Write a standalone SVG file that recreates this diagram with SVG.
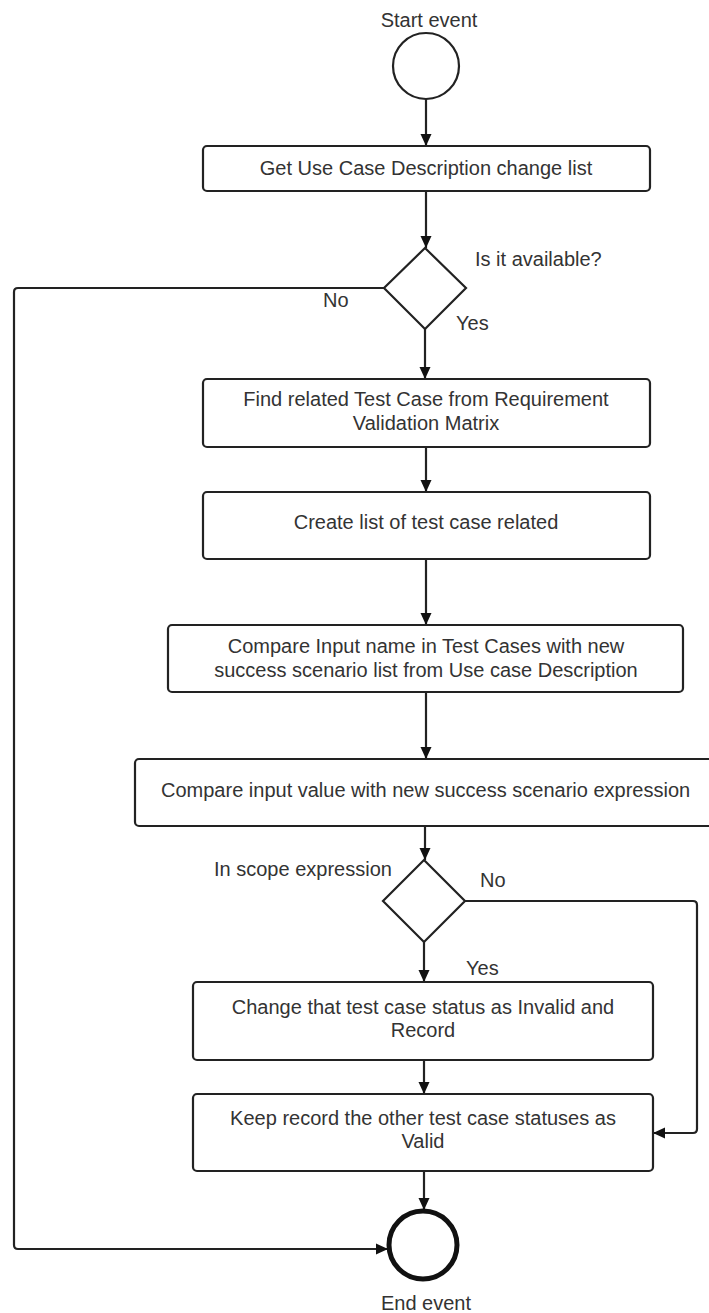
<svg xmlns="http://www.w3.org/2000/svg" width="709" height="1313" viewBox="0 0 709 1313">
  <style>
    .box { fill: #ffffff; stroke: #222222; stroke-width: 2.2; }
    .dec { fill: #ffffff; stroke: #222222; stroke-width: 2.2; stroke-linejoin: miter; }
    .ev { fill: #ffffff; stroke: #222222; stroke-width: 2.2; }
    .ev-end { fill: #ffffff; stroke: #111111; stroke-width: 5; }
    .edge { fill: none; stroke: #222222; stroke-width: 2.2; stroke-linejoin: round; }
    text { font-family: "Liberation Sans", Arial, sans-serif; font-size: 20px; fill: #333333; }
    .c { text-anchor: middle; }
  </style>
  <defs>
    <marker id="arrow" viewBox="0 0 12 12" refX="12" refY="6" markerWidth="12" markerHeight="12" markerUnits="userSpaceOnUse" orient="auto">
      <path d="M0,0.5 L12,6 L0,11.5 Z" fill="#111111"/>
    </marker>
  </defs>
  <rect width="709" height="1313" fill="#ffffff"/>

  <!-- connectors -->
  <g id="connectors">
    <path class="edge" d="M426,99 V146" marker-end="url(#arrow)"/>
    <path class="edge" d="M426,191 V248" marker-end="url(#arrow)"/>
    <path class="edge" d="M425,329 V379" marker-end="url(#arrow)"/>
    <path class="edge" d="M426,447 V492" marker-end="url(#arrow)"/>
    <path class="edge" d="M426,559 V625" marker-end="url(#arrow)"/>
    <path class="edge" d="M426,692 V759" marker-end="url(#arrow)"/>
    <path class="edge" d="M425,826 V860" marker-end="url(#arrow)"/>
    <path class="edge" d="M424,942 V982" marker-end="url(#arrow)"/>
    <path class="edge" d="M424,1060 V1094" marker-end="url(#arrow)"/>
    <path class="edge" d="M424,1171 V1210" marker-end="url(#arrow)"/>
    <!-- "No" branch of the availability check, straight to the end -->
    <path class="edge" d="M384,288 H18 Q14,288 14,292 V1245 Q14,1249 18,1249 H388" marker-end="url(#arrow)"/>
    <!-- "No" branch of the scope check -->
    <path class="edge" d="M465,901 H693 Q697,901 697,905 V1129 Q697,1133 693,1133 H653" marker-end="url(#arrow)"/>
    <text x="475" y="266">Is it available?</text>
    <text x="323" y="307">No</text>
    <text x="456" y="330">Yes</text>
    <text x="214" y="876">In scope expression</text>
    <text x="480" y="887">No</text>
    <text x="466" y="975">Yes</text>
  </g>

  <g id="start">
    <text class="c" x="429" y="27">Start event</text>
    <circle class="ev" cx="426" cy="66" r="33"/>
  </g>

  <g id="get-change-list">
    <rect class="box" x="203" y="146" width="447" height="45" rx="4"/>
    <text class="c" x="426" y="175">Get Use Case Description change list</text>
  </g>

  <g id="is-available">
    <polygon class="dec" points="425,248 466,288 425,329 384,288"/>
  </g>

  <g id="find-related">
    <rect class="box" x="203" y="379" width="447" height="68" rx="4"/>
    <text class="c" x="426" y="406">Find related Test Case from Requirement</text>
    <text class="c" x="426" y="430">Validation Matrix</text>
  </g>

  <g id="create-list">
    <rect class="box" x="203" y="492" width="447" height="67" rx="4"/>
    <text class="c" x="426" y="529">Create list of test case related</text>
  </g>

  <g id="compare-names">
    <rect class="box" x="168" y="625" width="515" height="67" rx="4"/>
    <text class="c" x="426" y="653">Compare Input name in Test Cases with new</text>
    <text class="c" x="426" y="677">success scenario list from Use case Description</text>
  </g>

  <g id="compare-values">
    <rect class="box" x="135" y="759" width="600" height="67" rx="4"/>
    <text x="161" y="797">Compare input value with new success scenario expression</text>
  </g>

  <g id="in-scope">
    <polygon class="dec" points="424,860 465,901 424,942 383,901"/>
  </g>

  <g id="mark-invalid">
    <rect class="box" x="193" y="982" width="460" height="78" rx="4"/>
    <text class="c" x="423" y="1014">Change that test case status as Invalid and</text>
    <text class="c" x="423" y="1037">Record</text>
  </g>

  <g id="keep-valid">
    <rect class="box" x="193" y="1094" width="460" height="77" rx="4"/>
    <text class="c" x="423" y="1125">Keep record the other test case statuses as</text>
    <text class="c" x="423" y="1148">Valid</text>
  </g>

  <g id="end">
    <circle class="ev-end" cx="423" cy="1245" r="34"/>
    <text class="c" x="426" y="1310">End event</text>
  </g>
</svg>
